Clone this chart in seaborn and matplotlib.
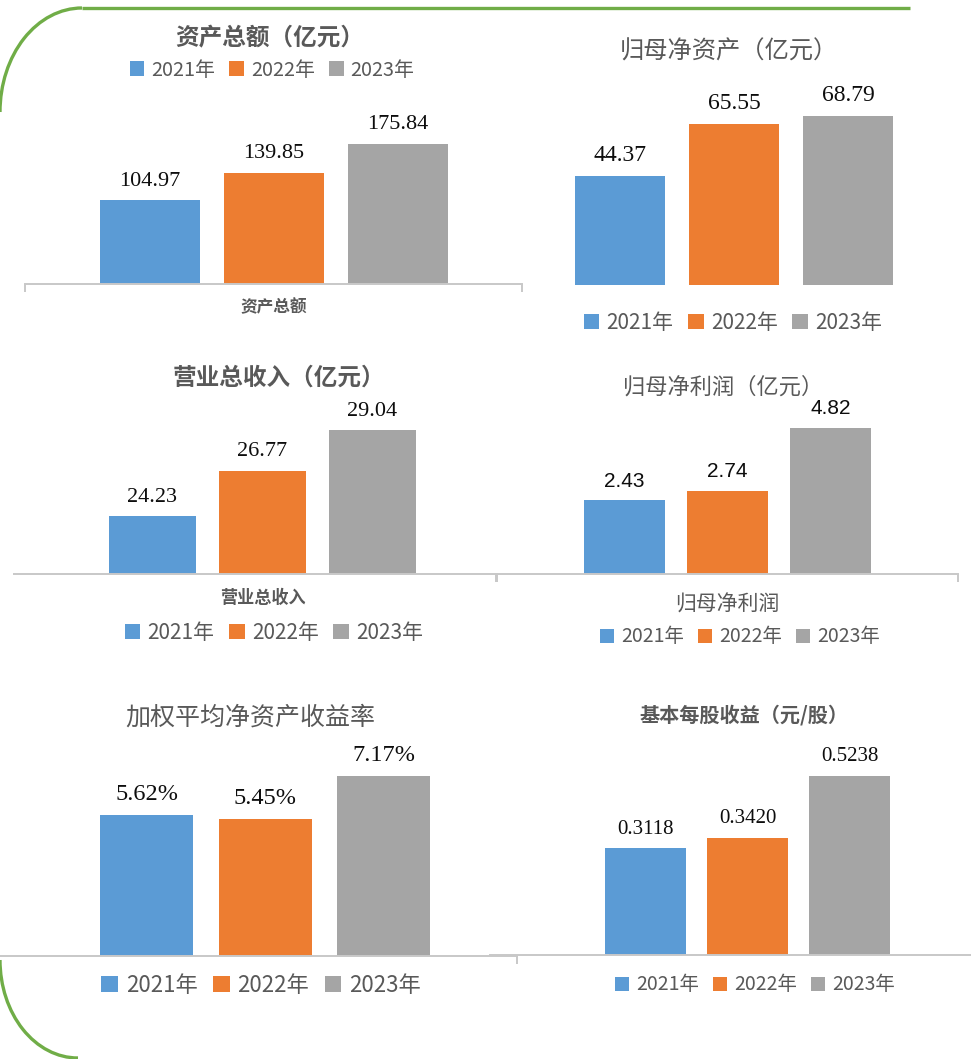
import matplotlib
matplotlib.use("Agg")
import matplotlib.pyplot as plt
from matplotlib.patches import Patch, Arc
import seaborn as sns

# data
years = ["2021年", "2022年", "2023年"]
total_assets = [104.97, 139.85, 175.84]
net_assets = [44.37, 65.55, 68.79]
revenue = [24.23, 26.77, 29.04]
net_profit = [2.43, 2.74, 4.82]
roe = [5.62, 5.45, 7.17]
eps = [0.3118, 0.3420, 0.5238]

colors = ["#5B9BD5", "#ED7D31", "#A5A5A5"]
W, H = 971, 1059
CJK = ["Noto Sans CJK SC", "DejaVu Sans"]
GRAY_TXT = "#595959"
AXIS_C = "#C8C8C8"

sns.set_theme(style="white")
plt.rcParams["font.family"] = CJK

fig = plt.figure(figsize=(W / 100, H / 100), dpi=100)
fig.patch.set_facecolor("white")

# green frame decoration
bg = fig.add_axes([0, 0, 1, 1], zorder=-1)
bg.set_xlim(0, W)
bg.set_ylim(H, 0)
bg.axis("off")
green = "#70AD47"
bg.add_patch(Arc((82, 112), 164, 208, theta1=180, theta2=270, color=green, lw=2.4))
bg.plot([82, 910], [8, 8], color=green, lw=2.4, solid_capstyle="butt")
bg.add_patch(Arc((78, 960), 156, 196, theta1=90, theta2=180, color=green, lw=2.4))


def fx(x):
    return x / W


def fy(y):
    return 1 - y / H


def panel(values, labels, x0, x1, base, ppu, c0, s, w, ymin=0.0, ticks=(),
          spine=True, val_font="Liberation Serif", val_size=16, pad=7):
    top = base - 220
    ax = fig.add_axes([fx(x0), fy(base), (x1 - x0) / W, (base - top) / H])
    sns.barplot(x=years, y=values, hue=years, palette=colors, saturation=1,
                width=w / s, errorbar=None, legend=False, linewidth=0, ax=ax)
    ax.set_xlim((x0 - c0) / s, (x1 - c0) / s)
    ax.set_ylim(ymin, ymin + (base - top) / ppu)
    ax.set_facecolor("none")
    for sp in ["top", "left", "right"]:
        ax.spines[sp].set_visible(False)
    ax.spines["bottom"].set_visible(spine)
    ax.spines["bottom"].set_color(AXIS_C)
    ax.spines["bottom"].set_linewidth(1.4)
    lim = ax.get_xlim()
    tpos = [lim[0] if t == "l" else lim[1] for t in ticks]
    ax.set_xticks(tpos)
    ax.set_xticklabels([""] * len(tpos))
    ax.tick_params(axis="x", bottom=True, length=6, width=1.4, color=AXIS_C, direction="out")
    ax.set_yticks([])
    ax.set_xlabel("")
    ax.set_ylabel("")
    for cont, lab in zip(ax.containers, labels):
        ax.bar_label(cont, labels=[lab], padding=pad, fontsize=val_size,
                     family=val_font, color="#0d0d0d")
    return ax


def legend(cx, cy, size):
    handles = [Patch(facecolor=c, edgecolor="none", label=y) for c, y in zip(colors, years)]
    fig.legend(handles=handles, loc="center", bbox_to_anchor=(fx(cx), fy(cy)), ncol=3,
               frameon=False, handlelength=0.75, handleheight=0.75, handletextpad=0.35,
               columnspacing=0.7, prop={"family": CJK, "size": size},
               labelcolor=GRAY_TXT, borderaxespad=0, borderpad=0)


def title(cx, cy, txt, size, weight="normal"):
    fig.text(fx(cx), fy(cy), txt, ha="center", va="center", fontsize=size,
             color=GRAY_TXT, family=CJK, fontweight=weight)


# 1. 资产总额
panel(total_assets, [f"{v:.2f}" for v in total_assets], 25, 522, 284, 0.796, 150, 124, 100,
      ticks=("l", "r"))
title(270, 38, "资产总额（亿元）", 17, "bold")
legend(272, 70, 14.3)
title(274, 307, "资产总额", 12, "bold")

# 2. 归母净资产
panel(net_assets, [f"{v:.2f}" for v in net_assets], 506, 962, 285, 2.46, 620, 114, 90,
      spine=False, val_size=17)
title(729, 52, "归母净资产（亿元）", 17.5)
legend(733, 323, 15)

# 3. 营业总收入
panel(revenue, [f"{v:.2f}" for v in revenue], 14, 497, 574, 17.85, 152, 110, 87,
      ymin=21, ticks=("r",))
title(279, 378, "营业总收入（亿元）", 17, "bold")
title(263, 598, "营业总收入", 12.3, "bold")
legend(274, 633, 15)

# 4. 归母净利润
panel(net_profit, [f"{v:.2f}" for v in net_profit], 496, 958, 574, 30.3, 624.5, 103, 81,
      ticks=("l", "r"), val_font="Liberation Sans", val_size=15)
title(723, 387, "归母净利润（亿元）", 16)
title(727, 605, "归母净利润", 15)
legend(740, 637, 14)

# 5. 加权平均净资产收益率
panel(roe, [f"{v:.2f}%" for v in roe], 0, 517, 956, 25.1, 146.5, 118.5, 93,
      ticks=("r",), val_size=17.5)
title(250, 718, "加权平均净资产收益率", 18)
legend(261, 985, 16)

# 6. 基本每股收益
panel(eps, [f"{v:.4f}" for v in eps], 490, 971, 955, 342, 645.5, 102, 81,
      val_size=15)
title(744, 715, "基本每股收益（元/股）", 14.5, "bold")
legend(755, 985, 14)

fig.savefig("out.png", dpi=100, facecolor="white")
